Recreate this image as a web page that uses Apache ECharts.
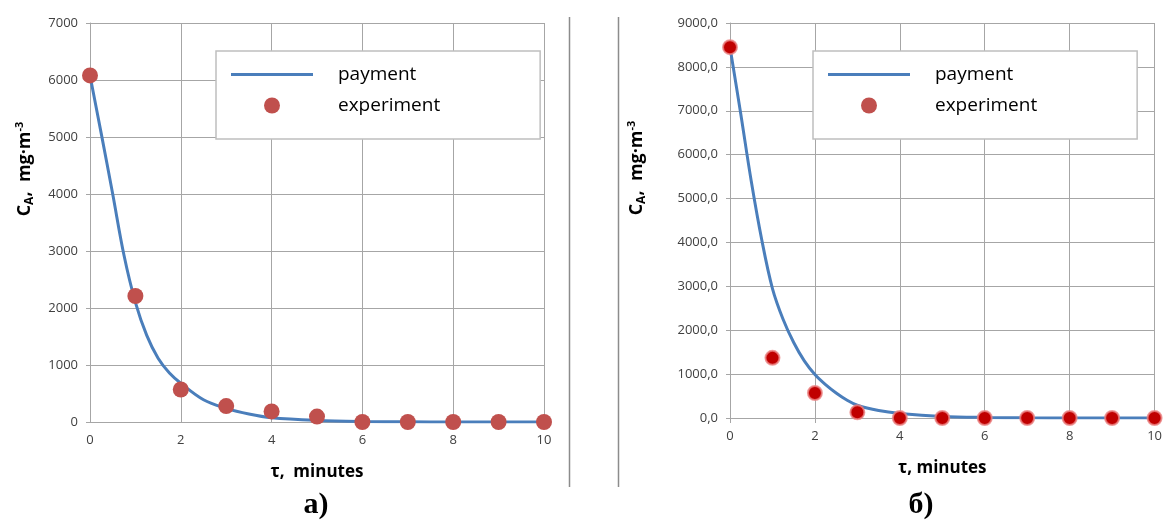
<!DOCTYPE html>
<html><head><meta charset="utf-8">
<script src="https://cdn.jsdelivr.net/npm/echarts@6/dist/echarts.min.js"></script>
<style>html,body{margin:0;padding:0;background:#fff}#c{width:1165px;height:520px}</style>
</head><body><div id="c"></div>
<script>
// Chart a)
const aPaymentT = [0, 0.25, 0.5, 0.75, 1, 1.25, 1.5, 1.75, 2, 2.5, 3, 3.5, 4, 5, 6, 7, 8, 9, 10];
const aPaymentC = [6080, 5050, 4000, 2920, 2100, 1520, 1120, 860, 680, 390, 240, 140, 75, 28, 9, 3, 1, 0, 0];
const aExpT = [0, 1, 2, 3, 4, 5, 6, 7, 8, 9, 10];
const aExpC = [6080, 2210, 570, 280, 185, 95, 0, 0, 0, 0, 0];
// Chart б)
const bPaymentT = [0, 0.25, 0.5, 0.75, 1, 1.25, 1.5, 1.75, 2, 2.25, 2.5, 2.75, 3, 3.5, 4, 5, 6, 7, 8, 9, 10];
const bPaymentC = [8450, 6950, 5400, 4050, 2950, 2250, 1720, 1300, 990, 760, 570, 410, 290, 170, 105, 36, 12, 4, 1, 0, 0];
const bExpT = [0, 1, 2, 3, 4, 5, 6, 7, 8, 9, 10];
const bExpC = [8450, 1370, 570, 130, 0, 0, 0, 0, 0, 0, 0];
const seriesNames = ['payment', 'experiment'];

const pairs = (xs, ys) => xs.map((x, i) => [x, ys[i]]);
const FONT = 'Open Sans';
const yNameRich = {
  m: {fontFamily: FONT, fontWeight: 'bold', fontSize: 18, fill: '#000', lineHeight: 22},
  sub: {fontFamily: FONT, fontWeight: 'bold', fontSize: 12, fill: '#000', lineHeight: 12, verticalAlign: 'bottom'},
  sup: {fontFamily: FONT, fontWeight: 'bold', fontSize: 11, fill: '#000', lineHeight: 11, verticalAlign: 'top'}
};
const yNameText = '{m|C}{sub|A}{m|,  mg·m}{sup|-3}';
const gridLine = {show: true, lineStyle: {color: '#a6a6a6', width: 1}};
const axisLine = {show: true, lineStyle: {color: '#a6a6a6', width: 1}};
const tickLabel = {fontFamily: FONT, fontSize: 13, color: '#404040'};

const legendBase = {
  orient: 'vertical', top: 51, itemWidth: 82, itemHeight: 16, itemGap: 12,
  padding: [14, 100, 24, 15], borderColor: '#bfbfbf', borderWidth: 1.5, backgroundColor: '#fff',
  textStyle: {fontFamily: FONT, fontSize: 19, color: '#000', padding: [0, 0, 0, 20]},
  data: [
    {name: seriesNames[0], icon: 'path://M0,0 L82,0 L82,3 L0,3 Z'},
    {name: seriesNames[1], icon: 'circle'}
  ]
};

const option = {
  animation: false,
  backgroundColor: '#fff',
  grid: [
    {left: 90, right: 621, top: 23, bottom: 98},
    {left: 730, right: 8, top: 23, bottom: 102}
  ],
  legend: [
    Object.assign({}, legendBase, {left: 216}),
    Object.assign({}, legendBase, {left: 813})
  ],
  xAxis: [
    {type: 'value', gridIndex: 0, min: 0, max: 10, interval: 2,
     axisLine: axisLine, axisTick: {show: false}, splitLine: gridLine,
     axisLabel: Object.assign({margin: 12}, tickLabel),
     name: 'τ,  minutes', nameLocation: 'middle', nameGap: 42,
     nameTextStyle: {fontFamily: FONT, fontWeight: 'bold', fontSize: 17, color: '#000'}},
    {type: 'value', gridIndex: 1, min: 0, max: 10, interval: 2,
     axisLine: axisLine, axisTick: {show: true, length: 5, lineStyle: {color: '#a6a6a6'}}, splitLine: gridLine,
     axisLabel: Object.assign({margin: 12}, tickLabel),
     name: 'τ, minutes', nameLocation: 'middle', nameGap: 42,
     nameTextStyle: {fontFamily: FONT, fontWeight: 'bold', fontSize: 17, color: '#000'}}
  ],
  yAxis: [
    {type: 'value', gridIndex: 0, min: 0, max: 7000, interval: 1000,
     axisLine: axisLine, axisTick: {show: true, length: 4, lineStyle: {color: '#a6a6a6'}}, splitLine: gridLine,
     axisLabel: Object.assign({margin: 12, formatter: v => String(v)}, tickLabel)},
    {type: 'value', gridIndex: 1, min: 0, max: 9000, interval: 1000,
     axisLine: axisLine, axisTick: {show: true, length: 4, lineStyle: {color: '#a6a6a6'}}, splitLine: gridLine,
     axisLabel: Object.assign({margin: 12, formatter: v => v.toFixed(1).replace('.', ',')}, tickLabel)}
  ],
  series: [
    {name: seriesNames[0], type: 'line', xAxisIndex: 0, yAxisIndex: 0, smooth: 0.35, symbol: 'none',
     lineStyle: {color: '#4a7ebb', width: 3}, itemStyle: {color: '#4a7ebb'}, data: pairs(aPaymentT, aPaymentC), z: 2},
    {name: seriesNames[1], type: 'scatter', xAxisIndex: 0, yAxisIndex: 0, symbolSize: 16,
     itemStyle: {color: '#c0504d', opacity: 1}, data: pairs(aExpT, aExpC), z: 3},
    {name: seriesNames[0], type: 'line', xAxisIndex: 1, yAxisIndex: 1, smooth: 0.35, symbol: 'none',
     lineStyle: {color: '#4a7ebb', width: 3}, itemStyle: {color: '#4a7ebb'}, data: pairs(bPaymentT, bPaymentC), z: 2},
    {name: seriesNames[1], type: 'scatter', xAxisIndex: 1, yAxisIndex: 1, symbolSize: 14,
     itemStyle: {color: '#c00000', borderColor: 'rgba(235,130,130,0.8)', borderWidth: 2, opacity: 1},
     data: pairs(bExpT, bExpC), z: 3}
  ],
  graphic: [
    {type: 'line', shape: {x1: 569.5, y1: 17, x2: 569.5, y2: 487}, style: {stroke: '#8c8c8c', lineWidth: 1.5}},
    {type: 'line', shape: {x1: 618.5, y1: 17, x2: 618.5, y2: 487}, style: {stroke: '#8c8c8c', lineWidth: 1.5}},
    {type: 'text', x: 25, y: 169, rotation: Math.PI / 2,
     style: {text: yNameText, rich: yNameRich, align: 'center', verticalAlign: 'middle'}},
    {type: 'text', x: 637, y: 168, rotation: Math.PI / 2,
     style: {text: yNameText, rich: yNameRich, align: 'center', verticalAlign: 'middle'}},
    {type: 'text', x: 316, y: 505, style: {text: 'а)', fontFamily: 'Liberation Serif', fontWeight: 'bold', fontSize: 30, fill: '#000', align: 'center', verticalAlign: 'middle'}},
    {type: 'text', x: 921, y: 505, style: {text: 'б)', fontFamily: 'Liberation Serif', fontWeight: 'bold', fontSize: 30, fill: '#000', align: 'center', verticalAlign: 'middle'}}
  ]
};
echarts.init(document.getElementById('c')).setOption(option);
</script></body></html>
